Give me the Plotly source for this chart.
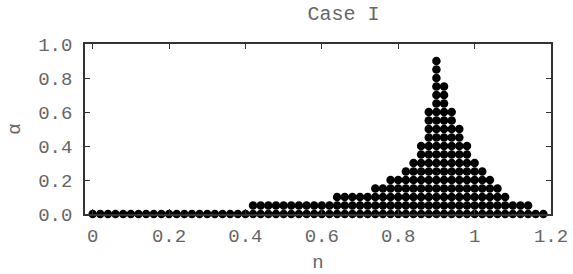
import numpy as np
import plotly.graph_objects as go

# Grid of (n, alpha) cells shown as dots; each row given by its extent in n
alpha_levels = [0.0, 0.05, 0.1, 0.15, 0.2, 0.25, 0.3, 0.35, 0.4, 0.45,
                0.5, 0.55, 0.6, 0.65, 0.7, 0.75, 0.8, 0.85, 0.9]
n_min = [0.0, 0.42, 0.64, 0.74, 0.78, 0.82, 0.84, 0.86, 0.86, 0.88,
         0.88, 0.88, 0.88, 0.90, 0.90, 0.90, 0.90, 0.90, 0.90]
n_max = [1.18, 1.14, 1.08, 1.06, 1.04, 1.02, 1.00, 0.98, 0.98, 0.96,
         0.96, 0.94, 0.94, 0.92, 0.92, 0.92, 0.90, 0.90, 0.90]
n_step = 0.02

x_tickvals = [0, 0.2, 0.4, 0.6, 0.8, 1.0, 1.2]
x_ticktext = ["0", "0.2", "0.4", "0.6", "0.8", "1", "1.2"]
y_tickvals = [0, 0.2, 0.4, 0.6, 0.8, 1.0]
y_ticktext = ["0.0", "0.2", "0.4", "0.6", "0.8", "1.0"]

xs, ys = [], []
for a, lo, hi in zip(alpha_levels, n_min, n_max):
    for k in range(int(round(lo / n_step)), int(round(hi / n_step)) + 1):
        xs.append(round(k * n_step, 4))
        ys.append(a)

FONT = "Liberation Mono"
FS = 19
fig = go.Figure(go.Scatter(
    x=xs, y=ys, mode="markers",
    marker=dict(color="black", size=8.5, line=dict(width=0)),
    cliponaxis=False, showlegend=False, hoverinfo="skip",
))

axis_common = dict(
    showline=True, linecolor="#333", linewidth=1.5, mirror="ticks",
    ticks="inside", ticklen=5, tickcolor="#333", showgrid=False, zeroline=False,
    tickfont=dict(family=FONT, size=FS, color="#666"), automargin=False,
)
fig.update_layout(
    width=573, height=274,
    margin=dict(l=85, r=22, t=44, b=60),
    paper_bgcolor="white", plot_bgcolor="white",
    title=dict(text="Case I", x=(85 + 551) / 2 / 573, xref="paper", xanchor="center",
               y=1 - 13 / 274, yref="container", yanchor="middle",
               font=dict(family=FONT, size=20, color="#666")),
    xaxis=dict(range=[-0.02, 1.2], tickvals=x_tickvals, ticktext=x_ticktext,
               title=dict(text="n", font=dict(family=FONT, size=FS, color="#666"), standoff=9),
               ticklabelstandoff=3, **axis_common),
    yaxis=dict(range=[0, 1.0], tickvals=y_tickvals, ticktext=y_ticktext,
               title=dict(text="α", font=dict(family=FONT, size=FS, color="#666"), standoff=13),
               ticklabelstandoff=7, **axis_common),
)
fig.write_html("out.html", config={"displayModeBar": False},
               post_script="document.body.style.margin='0';")
